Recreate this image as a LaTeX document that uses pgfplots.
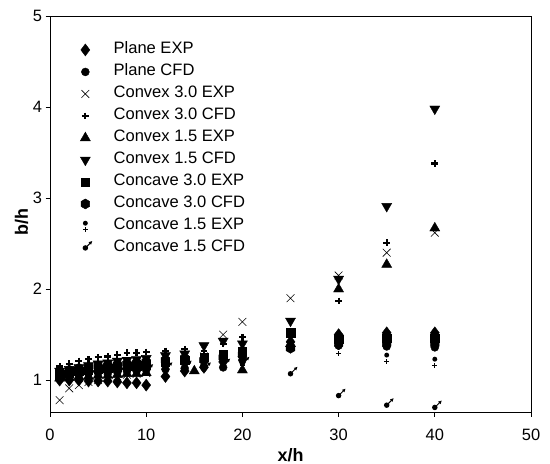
\documentclass[border=0pt]{standalone}
\usepackage{pgfplots}
\pgfplotsset{compat=1.18}
\usepackage{fontspec}
\setmainfont{Liberation Sans}
\usetikzlibrary{plotmarks}

\pgfdeclareplotmark{hexagon*}{%
  \pgfpathmoveto{\pgfpointpolar{90}{\pgfplotmarksize}}%
  \pgfpathlineto{\pgfpointpolar{150}{\pgfplotmarksize}}%
  \pgfpathlineto{\pgfpointpolar{210}{\pgfplotmarksize}}%
  \pgfpathlineto{\pgfpointpolar{270}{\pgfplotmarksize}}%
  \pgfpathlineto{\pgfpointpolar{330}{\pgfplotmarksize}}%
  \pgfpathlineto{\pgfpointpolar{30}{\pgfplotmarksize}}%
  \pgfpathclose\pgfusepathqfillstroke}
\pgfdeclareplotmark{dotplus}{%
  \pgfpathcircle{\pgfqpoint{0pt}{0.5\pgfplotmarksize}}{0.45\pgfplotmarksize}\pgfusepathqfill
  \pgfpathmoveto{\pgfqpoint{-0.42\pgfplotmarksize}{-0.65\pgfplotmarksize}}%
  \pgfpathlineto{\pgfqpoint{0.42\pgfplotmarksize}{-0.65\pgfplotmarksize}}%
  \pgfpathmoveto{\pgfqpoint{0pt}{-1.07\pgfplotmarksize}}%
  \pgfpathlineto{\pgfqpoint{0pt}{-0.23\pgfplotmarksize}}%
  \pgfusepathqstroke}
\pgfdeclareplotmark{dotarrow}{%
  \pgfpathcircle{\pgfqpoint{0pt}{0pt}}{0.5\pgfplotmarksize}\pgfusepathqfill
  \pgfpathmoveto{\pgfqpoint{0pt}{0pt}}%
  \pgfpathlineto{\pgfqpoint{0.9\pgfplotmarksize}{0.9\pgfplotmarksize}}%
  \pgfusepathqstroke
  \pgfpathmoveto{\pgfqpoint{1.25\pgfplotmarksize}{1.25\pgfplotmarksize}}%
  \pgfpathlineto{\pgfqpoint{0.6\pgfplotmarksize}{1.05\pgfplotmarksize}}%
  \pgfpathlineto{\pgfqpoint{1.05\pgfplotmarksize}{0.6\pgfplotmarksize}}%
  \pgfpathclose\pgfusepathqfill}

\begin{document}
\begin{tikzpicture}
\begin{axis}[
  scale only axis, width=481bp, height=396bp,
  xmin=0, xmax=50, ymin=0.65, ymax=5,
  xtick={0,10,20,30,40,50}, ytick={1,2,3,4,5},
  tick align=outside, xtick pos=bottom, ytick pos=left,
  major tick length=4.5bp,
  axis line style={line width=0.8bp}, every tick/.style={black, line width=0.8bp},
  /pgf/number format/assume math mode=true,
  ticklabel style={font=\fontsize{16.5}{19}\selectfont},
  xticklabel style={yshift=-9bp},
  xlabel={x/h}, ylabel={b/h},
  xlabel style={font=\fontsize{18}{21}\selectfont\bfseries, at={(axis description cs:0.5,-0.108)}, anchor=center},
  ylabel style={font=\fontsize{18}{21}\selectfont\bfseries, at={(axis description cs:-0.059,0.48)}, anchor=center, rotate=0},
  legend style={draw=none, fill=none, inner sep=0pt, at={(axis description cs:0.055,0.935)}, anchor=north west,
    font=\fontsize{16.6}{19}\selectfont, cells={anchor=west},
    nodes={inner sep=0pt, text height=12bp, text depth=4bp}, row sep=6bp},
  legend image code/.code={\path (0cm,0cm) (1.29cm,0cm);
    \draw[mark repeat=2,mark phase=2,#1,only marks] plot coordinates {(0cm,0cm)(0.3cm,0cm)(0.6cm,0cm)};},
  every axis plot/.append style={only marks, black},
]
\addplot[mark=diamond*, mark size=6bp] coordinates {(1,1.00)(2,1.00)(3,1.00)(4,0.99)(5,0.99)(6,0.99)(7,0.98)(8,0.97)(9,0.97)(10,0.945)(12,1.04)(14,1.10)(16,1.14)(18,1.20)(20,1.26)(25,1.42)(30,1.50)(35,1.52)(40,1.52)};
\addlegendentry{Plane EXP}
\addplot[mark=*, mark size=4bp] coordinates {(1,1.04)(2,1.05)(3,1.06)(4,1.07)(5,1.08)(6,1.08)(7,1.09)(8,1.10)(9,1.10)(10,1.11)(12,1.12)(14,1.13)(16,1.15)(18,1.14)(20,1.22)(25,1.36)(30,1.38)(35,1.37)(40,1.36)};
\addlegendentry{Plane CFD}
\addplot[mark=x, mark size=5.5bp, mark options={line width=0.6bp}] coordinates {(1,0.78)(2,0.91)(3,0.945)(4,0.98)(5,1.00)(6,1.02)(7,1.04)(8,1.06)(9,1.07)(10,1.08)(12,1.16)(14,1.22)(16,1.26)(18,1.50)(20,1.64)(25,1.90)(30,2.15)(35,2.40)(40,2.62)};
\addlegendentry{Convex 3.0 EXP}
\addplot[mark=+, mark size=3.4bp, mark options={line width=2.2bp}] coordinates {(1,1.15)(2,1.18)(3,1.21)(4,1.23)(5,1.25)(6,1.26)(7,1.28)(8,1.30)(9,1.30)(10,1.31)(12,1.32)(14,1.34)(16,1.32)(18,1.40)(20,1.47)(25,1.52)(30,1.87)(35,2.51)(40,3.38)};
\addlegendentry{Convex 3.0 CFD}
\addplot[mark=triangle*, mark size=5.8bp] coordinates {(1,1.02)(2,1.03)(3,1.04)(4,1.04)(5,1.05)(6,1.05)(7,1.06)(8,1.07)(9,1.07)(10,1.08)(15,1.10)(20,1.11)(25,1.40)(30,2.00)(35,2.27)(40,2.67)};
\addlegendentry{Convex 1.5 EXP}
\addplot[mark=triangle*, mark size=5.8bp, mark options={rotate=180}] coordinates {(1,1.10)(2,1.12)(3,1.14)(4,1.16)(5,1.18)(6,1.19)(7,1.21)(8,1.22)(9,1.23)(10,1.24)(12,1.27)(14,1.29)(16,1.38)(18,1.43)(20,1.40)(25,1.65)(30,2.11)(35,2.91)(40,3.98)};
\addlegendentry{Convex 1.5 CFD}
\addplot[mark=square*, mark size=4.2bp] coordinates {(1,1.06)(2,1.08)(3,1.10)(4,1.11)(5,1.12)(6,1.13)(7,1.14)(8,1.15)(9,1.16)(10,1.17)(12,1.20)(14,1.22)(16,1.25)(18,1.28)(20,1.32)(25,1.52)(30,1.45)(35,1.46)(40,1.46)};
\addlegendentry{Concave 3.0 EXP}
\addplot[mark=hexagon*, mark size=5bp] coordinates {(1,1.09)(2,1.11)(3,1.13)(4,1.14)(5,1.15)(6,1.16)(7,1.17)(8,1.18)(9,1.19)(10,1.20)(12,1.22)(14,1.24)(16,1.22)(18,1.25)(20,1.28)(25,1.35)(30,1.40)(35,1.40)(40,1.40)};
\addlegendentry{Concave 3.0 CFD}
\addplot[mark=dotplus, mark size=5.5bp, mark options={line width=0.9bp}] coordinates {(1,1.02)(2,1.04)(3,1.05)(4,1.06)(5,1.07)(6,1.08)(7,1.09)(8,1.10)(9,1.11)(10,1.12)(12,1.14)(14,1.16)(16,1.18)(18,1.17)(20,1.20)(25,1.40)(30,1.33)(35,1.245)(40,1.20)};
\addlegendentry{Concave 1.5 EXP}
\addplot[mark=dotarrow, mark size=5.5bp, mark options={line width=1bp}] coordinates {(1,1.00)(2,1.02)(3,1.03)(4,1.04)(5,1.05)(6,1.06)(7,1.07)(8,1.08)(9,1.09)(10,1.10)(12,1.12)(14,1.14)(16,1.12)(18,1.16)(20,1.18)(25,1.07)(30,0.83)(35,0.725)(40,0.70)};
\addlegendentry{Concave 1.5 CFD}
\end{axis}
\pgfresetboundingbox
\path (current axis.south west) ++(-50bp,-52bp) coordinate (bbsw);
\path (current axis.north east) ++(19bp,16bp) coordinate (bbne);
\useasboundingbox (bbsw) rectangle (bbne);
\end{tikzpicture}
\end{document}
